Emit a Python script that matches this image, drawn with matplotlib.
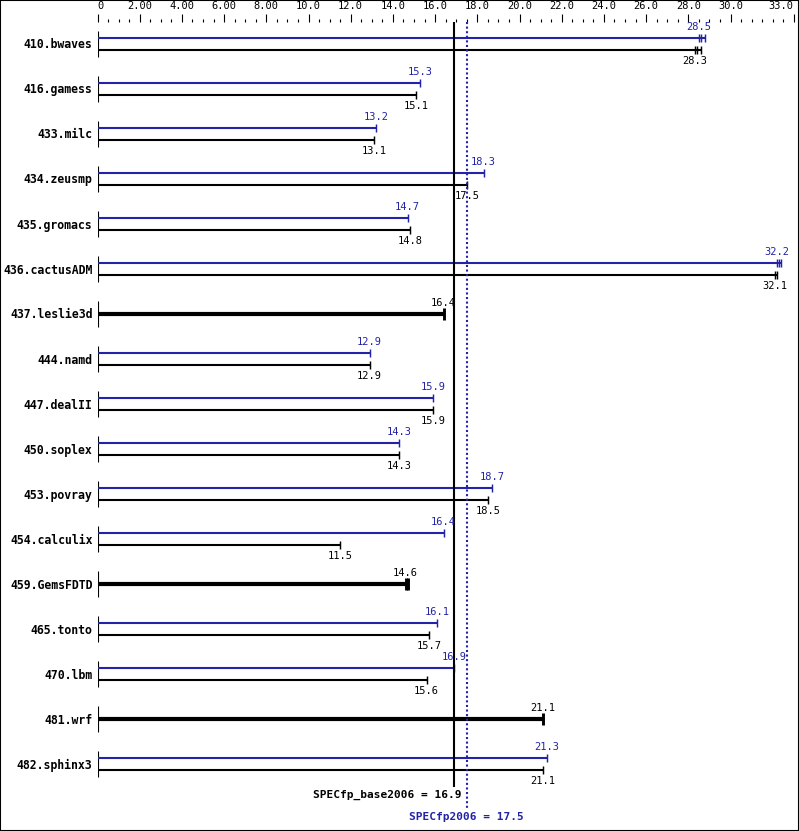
import matplotlib
matplotlib.use("Agg")
import matplotlib.pyplot as plt
import numpy as np
from matplotlib.patches import Rectangle

benchmarks = ["410.bwaves", "416.gamess", "433.milc", "434.zeusmp", "435.gromacs",
              "436.cactusADM", "437.leslie3d", "444.namd", "447.dealII", "450.soplex",
              "453.povray", "454.calculix", "459.GemsFDTD", "465.tonto", "470.lbm",
              "481.wrf", "482.sphinx3"]
# None -> no peak run, base only (drawn as a thick bar)
peak = [28.5, 15.3, 13.2, 18.3, 14.7, 32.2, None, 12.9, 15.9, 14.3, 18.7, 16.4,
        None, 16.1, 16.9, None, 21.3]
base = [28.3, 15.1, 13.1, 17.5, 14.8, 32.1, 16.4, 12.9, 15.9, 14.3, 18.5, 11.5,
        14.6, 15.7, 15.6, 21.1, 21.1]
# other runs that show up as extra ticks at the bar end
peak_other_runs = [[28.6, 28.8], [], [], [], [], [32.3, 32.4], [], [], [], [], [], [],
                   [], [], [], [], []]
base_other_runs = [[28.4, 28.6], [], [], [], [], [32.2], [], [], [], [], [], [],
                   [14.7], [], [], [], []]

base_mean = 16.9
peak_mean = 17.5

tick_values = [0, 2, 4, 6, 8, 10, 12, 14, 16, 18, 20, 22, 24, 26, 28, 30, 33]
tick_labels = ["0", "2.00", "4.00", "6.00", "8.00", "10.0", "12.0", "14.0", "16.0",
               "18.0", "20.0", "22.0", "24.0", "26.0", "28.0", "30.0", "33.0"]

BLUE = "#2323a8"
FONT = "DejaVu Sans Mono"
W, H, DPI = 799, 831, 100
X0_PX = 97.5
PX_PER_UNIT = 21.1
ROW0_PX = 44
ROW_PX = 45
TOP_PX = 22


def px(n):
    # pixels -> points
    return n * 72.0 / DPI


def create_plot():
    fig = plt.figure(figsize=(W / DPI, H / DPI), dpi=DPI)
    fig.patch.set_facecolor("white")
    fig.patches.append(Rectangle((0, 0), 1, 1, transform=fig.transFigure, fill=False,
                                 edgecolor="black", linewidth=1.5))

    ax_w = 797 - X0_PX
    ax = fig.add_axes([X0_PX / W, 0, ax_w / W, (H - TOP_PX) / H])
    ax.set_xlim(0, ax_w / PX_PER_UNIT)
    ax.set_ylim((H - ROW0_PX) / ROW_PX, (TOP_PX - ROW0_PX) / ROW_PX)

    for s in ax.spines.values():
        s.set_visible(False)
    ax.yaxis.set_visible(False)
    ax.xaxis.tick_top()
    ax.set_xticks(tick_values)
    ax.set_xticks(np.arange(0, 33.01, 0.5), minor=True)
    ax.set_xticklabels(tick_labels, fontsize=7.5, family=FONT)
    ax.tick_params(axis="x", which="major", length=px(8), width=0.8, pad=px(3))
    ax.tick_params(axis="x", which="minor", length=px(3), width=0.8)
    labels = ax.get_xticklabels()
    labels[0].set_horizontalalignment("left")
    labels[-1].set_horizontalalignment("right")

    for i, name in enumerate(benchmarks):
        ax.annotate(name, (0, i), xytext=(-px(5), -px(1)), textcoords="offset points",
                    ha="right", va="center", fontsize=8.3, fontweight="bold", family=FONT)
        ax.vlines(0, i - 13 / ROW_PX, i + 13 / ROW_PX, color="black", linewidth=0.8)

        if peak[i] is None:
            _draw_bar(ax, base[i], base_other_runs[i], i, "black", 3.0, 12, above=True)
        else:
            _draw_bar(ax, peak[i], peak_other_runs[i], i - 6 / ROW_PX, BLUE, 1.5, 8, above=True)
            _draw_bar(ax, base[i], base_other_runs[i], i + 6 / ROW_PX, "black", 1.5, 8, above=False)

    ax.vlines(base_mean, (TOP_PX - ROW0_PX) / ROW_PX, (787 - ROW0_PX) / ROW_PX,
              color="black", linewidth=1.5)
    ax.vlines(peak_mean, (TOP_PX - ROW0_PX) / ROW_PX, (808 - ROW0_PX) / ROW_PX,
              color=BLUE, linewidth=1.5, linestyles=(0, (1, 1.2)))

    ax.annotate(f"SPECfp_base2006 = {base_mean}", (base_mean, (795 - ROW0_PX) / ROW_PX),
                xytext=(px(7), 0), textcoords="offset points", ha="right", va="center",
                fontsize=8, fontweight="bold", family=FONT, color="black")
    ax.annotate(f"SPECfp2006 = {peak_mean}", (peak_mean, (817 - ROW0_PX) / ROW_PX),
                ha="center", va="center", fontsize=8, fontweight="bold", family=FONT,
                color=BLUE)

    plt.savefig("out.png", dpi=DPI)


def _draw_bar(ax, value, other_runs, y, color, lw, cap_px, above):
    runs = [value] + list(other_runs)
    ax.hlines(y, 0, max(runs), color=color, linewidth=lw)
    half = cap_px / 2 / ROW_PX
    for r in runs:
        ax.vlines(r, y - half, y + half, color=color, linewidth=lw * 0.7)
    offset = px(11) if above else -px(11)
    ax.annotate(f"{value}", (value, y), xytext=(0, offset), textcoords="offset points",
                ha="center", va="center", fontsize=7.5, family=FONT, color=color)


if __name__ == "__main__":
    create_plot()
